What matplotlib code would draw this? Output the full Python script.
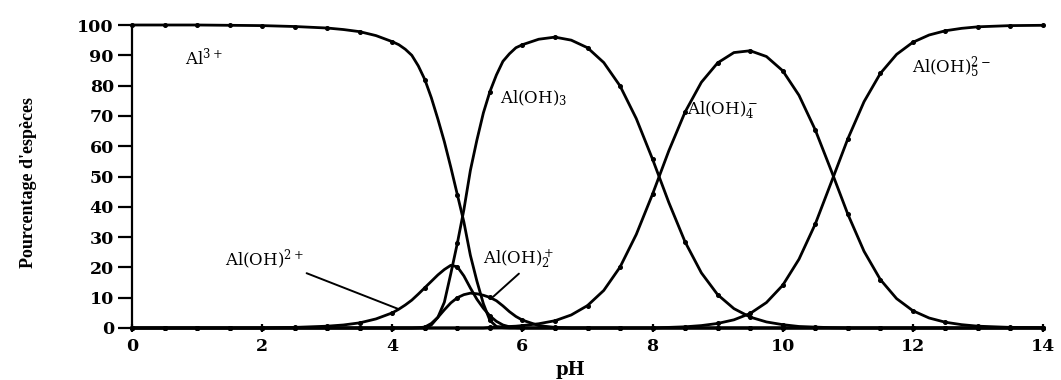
import matplotlib
matplotlib.use("Agg")
import matplotlib.pyplot as plt

# pH grid (finer where the hydrolysis species change quickly)
ph = [0, 0.5, 1, 1.5, 2, 2.5, 3, 3.25, 3.5, 3.75,
      4.0, 4.1, 4.2, 4.3, 4.4, 4.5, 4.6, 4.7, 4.8, 4.9, 5.0,
      5.1, 5.2, 5.3, 5.4, 5.5, 5.6, 5.7, 5.8, 5.9, 6.0,
      6.25, 6.5, 6.75, 7.0, 7.25, 7.5, 7.75, 8.0, 8.25, 8.5, 8.75, 9.0,
      9.25, 9.5, 9.75, 10.0, 10.25, 10.5, 10.75, 11.0, 11.25, 11.5,
      11.75, 12.0, 12.25, 12.5, 12.75, 13.0, 13.5, 14.0]

# Percentage of each aluminium species
al3 = ([100, 100, 100, 99.9, 99.8, 99.5, 99.0, 98.5, 97.8, 96.5,
        94.5, 93.5, 92.0, 90.0, 86.5, 82.0, 76.0, 69.0, 61.5, 53.0, 44.0,
        35.0, 24.0, 15.5, 8.0, 2.5, 0.5, 0.1, 0, 0, 0] + [0] * 30)

al_oh = ([0, 0, 0, 0, 0, 0.2, 0.6, 1.0, 1.7, 3.0,
          5.0, 6.2, 7.6, 9.2, 11.2, 13.3, 15.4, 17.5, 19.3, 20.7, 20.2,
          17.2, 13.2, 9.5, 6.5, 4.0, 2.2, 1.0, 0.4, 0.1, 0] + [0] * 30)

al_oh2 = ([0] * 10 +
          [0, 0, 0, 0, 0.1, 0.3, 1.5, 3.5, 6.0, 8.3, 10.0,
           11.0, 11.5, 11.3, 10.8, 10.1, 9.0, 7.3, 5.4, 3.8, 2.6,
           0.8, 0.2, 0] + [0] * 27)

al_oh3 = ([0] * 10 +
          [0, 0, 0, 0, 0, 0, 1.0, 3.5, 8.5, 18.0, 28.0,
           39.0, 52.0, 62.0, 71.0, 78.0, 83.5, 88.0, 90.5, 92.5, 93.5,
           95.3, 96.0, 95.0, 92.5, 87.6, 79.9, 69.1, 55.7, 41.4, 28.4,
           18.2, 11.0, 6.4, 3.6, 2.0,
           1.1, 0.5, 0.3, 0.1, 0] + [0] * 10)

al_oh4 = ([0] * 25 +
          [0.2, 0.3, 0.4, 0.5, 0.6, 0.8,
           1.4, 2.4, 4.3, 7.4, 12.4, 20.1, 30.9, 44.2, 58.5, 71.3,
           81.1, 87.5, 90.9, 91.5, 89.6,
           84.9, 76.8, 65.4, 51.7, 37.6, 25.3, 16.0, 9.7, 5.7, 3.3,
           1.9, 1.1, 0.6, 0.2, 0.1])

al_oh5 = ([0] * 39 +
          [0.2, 0.4, 0.8, 1.5, 2.7, 4.8, 8.4,
           14.1, 22.7, 34.3, 48.3, 62.4, 74.7, 84.0, 90.3, 94.3,
           96.7, 98.1, 98.9, 99.4, 99.8, 99.9])

series = [al3, al_oh, al_oh2, al_oh3, al_oh4, al_oh5]

x_ticks = list(range(0, 15, 2))
y_ticks = list(range(0, 101, 10))

plt.rcParams["mathtext.fontset"] = "dejavuserif"

fig = plt.figure(figsize=(10.61, 3.80), dpi=100)
ax = fig.add_axes([132 / 1061, 52 / 380, 911 / 1061, 303 / 380])

# dots every half pH unit along each curve
marks = [i for i, p in enumerate(ph) if abs(p * 2 - round(p * 2)) < 1e-9]

for values in series:
    ax.plot(ph, values, color="black", lw=2.0, marker="o", markersize=2.6,
            markevery=marks, clip_on=False, solid_capstyle="round", zorder=3)

ax.set_xlim(0, 14)
ax.set_ylim(0, 100)
ax.set_xticks(x_ticks)
ax.set_yticks(y_ticks)

for side in ("top", "right"):
    ax.spines[side].set_visible(False)
for side in ("left", "bottom"):
    ax.spines[side].set_linewidth(1.6)

tick_font = {"family": "DejaVu Serif", "weight": "bold", "size": 12.5}
ax.set_xticklabels([str(t) for t in x_ticks], **tick_font)
ax.set_yticklabels([str(t) for t in y_ticks], **tick_font)
ax.tick_params(axis="y", direction="out", length=10, width=1.6, pad=3)
ax.tick_params(axis="x", direction="inout", length=6, width=1.6, pad=4)

ax.set_ylabel("Pourcentage d'espèces", family="Liberation Serif",
              weight="bold", size=13)
ax.yaxis.set_label_coords(-0.104, 0.479)
ax.set_xlabel("pH", family="DejaVu Serif", weight="bold", size=13)
ax.xaxis.set_label_coords(0.481, -0.11)

label_font = {"family": "DejaVu Serif", "size": 12, "color": "black"}
ax.text(0.81, 87.1, "Al$^{3+}$", ha="left", va="baseline", **label_font)
ax.text(5.66, 74.3, "Al(OH)$_3$", ha="left", va="baseline", **label_font)
ax.text(8.53, 70.6, "Al(OH)$_4^-$", ha="left", va="baseline", **label_font)
ax.text(11.98, 84.2, "Al(OH)$_5^{2-}$", ha="left", va="baseline", **label_font)

ax.annotate("Al(OH)$^{2+}$", xy=(4.09, 6.3), xytext=(1.43, 20.5),
            ha="left", va="baseline",
            arrowprops=dict(arrowstyle="-", color="black", lw=1.4,
                            shrinkA=0, shrinkB=0,
                            relpos=(1.0, 0.0)),
            **label_font)
ax.annotate("Al(OH)$_2^+$", xy=(5.55, 10.3), xytext=(5.39, 21.1),
            ha="left", va="baseline",
            arrowprops=dict(arrowstyle="-", color="black", lw=1.4,
                            shrinkA=0, shrinkB=0,
                            relpos=(0.55, 0.0)),
            **label_font)

fig.savefig("out.png", dpi=100)
